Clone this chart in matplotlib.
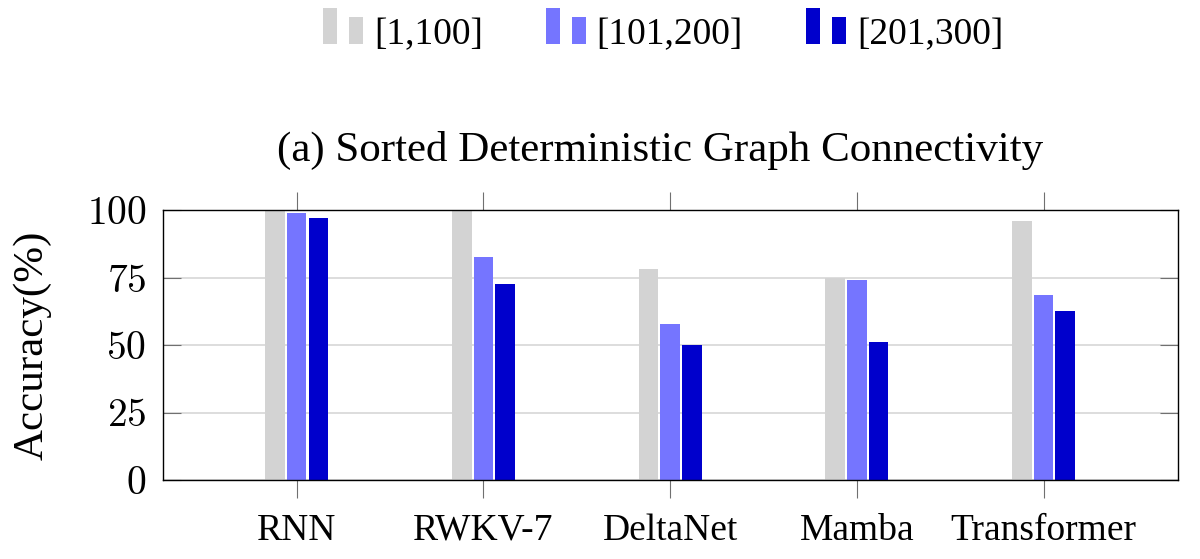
import matplotlib
matplotlib.use('Agg')
import matplotlib.pyplot as plt
from matplotlib.patches import Rectangle
from matplotlib.legend_handler import HandlerBase
import numpy as np

models = ['RNN', 'RWKV-7', 'DeltaNet', 'Mamba', 'Transformer']
series_labels = ['[1,100]', '[101,200]', '[201,300]']
acc_1_100 = [100, 100, 78.0, 75.0, 96.0]
acc_101_200 = [99.0, 82.5, 57.7, 74.1, 68.4]
acc_201_300 = [97.0, 72.7, 50.1, 51.1, 62.5]
series_values = [acc_1_100, acc_101_200, acc_201_300]
colors = ['#d3d3d3', '#7575ff', '#0000cc']
yticks = [0, 25, 50, 75, 100]

plt.rcParams['font.family'] = ['Liberation Serif', 'DejaVu Serif']
plt.rcParams['mathtext.fontset'] = 'cm'

fig = plt.figure(figsize=(12, 5.59), dpi=100)
ax = fig.add_axes([163 / 1200, (559 - 480) / 559, (1178 - 163) / 1200, 270 / 559])

x = np.arange(len(models))
offset = 0.116
width = 0.105
handles = []
for i, (vals, c) in enumerate(zip(series_values, colors)):
    b = ax.bar(x + (i - 1) * offset, vals, width=width, color=c, edgecolor='none',
               zorder=2, label=series_labels[i])
    handles.append(b.patches[0])

ax.set_xlim(-0.716, 4.72)
ax.set_ylim(0, 100)
ax.set_xticks(x)
ax.set_xticklabels(models, fontsize=27)
ax.set_yticks(yticks)
ax.set_yticklabels([r'$%d$' % v for v in yticks], fontsize=28.5)
ax.yaxis.grid(True, color='#d3d3d3', lw=1.1, zorder=0)
ax.set_axisbelow(True)
ax.tick_params(axis='y', left=True, right=True, direction='in', length=13,
               width=0.8, color='#707070', pad=12)
ax.tick_params(axis='x', top=True, bottom=True, direction='out', length=13,
               width=0.8, color='#707070', pad=11)
for s in ax.spines.values():
    s.set_linewidth(1.0)
    s.set_color('black')

fig.text(32 / 1200, 1 - 345 / 559, 'Accuracy(%)', rotation=90, ha='center', va='center',
         fontsize=31)
fig.text(660 / 1200, 1 - 150 / 559, '(a) Sorted Deterministic Graph Connectivity',
         ha='center', va='center', fontsize=31)


class TwoBar(HandlerBase):
    def create_artists(self, legend, orig_handle, xdescent, ydescent, width, height,
                       fontsize, trans):
        c = orig_handle.get_facecolor()
        w = 10.4
        r1 = Rectangle((0, 0), w, 25.9, facecolor=c, edgecolor='none', transform=trans)
        r2 = Rectangle((18.7, 0), w, 19.4, facecolor=c, edgecolor='none', transform=trans)
        return [r1, r2]


leg = fig.legend(handles, series_labels, loc='center', bbox_to_anchor=(663 / 1200, 1 - 35 / 559),
                 ncol=3, frameon=False, fontsize=27, handler_map={Rectangle: TwoBar()},
                 handlelength=1.067, handleheight=0.7, handletextpad=0.29, columnspacing=1.68,
                 borderpad=0, borderaxespad=0)

fig.savefig('out.png', dpi=100)
